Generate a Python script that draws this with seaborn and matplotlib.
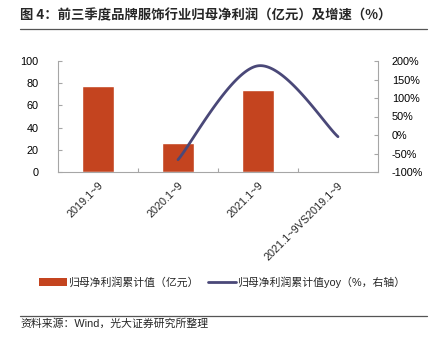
import numpy as np
import pandas as pd
import matplotlib
matplotlib.use("Agg")
import matplotlib.pyplot as plt
import seaborn as sns
from matplotlib.lines import Line2D
from matplotlib.patches import Patch

categories = ["2019.1~9", "2020.1~9", "2021.1~9", "2021.1~9VS2019.1~9"]
profit = [77.7, 25.8, 74.1, np.nan]          # 亿元
yoy = [np.nan, -66.8, 187.0, -4.6]           # %

title = "图 4：前三季度品牌服饰行业归母净利润（亿元）及增速（%）"
bar_label = "归母净利润累计值（亿元）"
line_label = "归母净利润累计值yoy（%，右轴）"
source = "资料来源：Wind，光大证券研究所整理"

BAR_C = "#C4441F"
LINE_C = "#4A4878"
AX_C = "#A6A6A6"

sns.set_theme(style="white")
plt.rcParams["font.family"] = ["Liberation Sans", "Noto Sans CJK SC", "DejaVu Sans"]

W, H = 430, 341
fig = plt.figure(figsize=(W / 100, H / 100), dpi=100)
ax = fig.add_axes([58 / W, 1 - 172 / H, (378 - 58) / W, (172 - 61) / H])

df = pd.DataFrame({"cat": categories, "profit": profit})
sns.barplot(data=df, x="cat", y="profit", color=BAR_C, width=0.4, ax=ax,
            saturation=1, order=categories)
ax.set_xlim(-0.5, 3.5)
ax.set_ylim(0, 100)
ax.set_yticks([0, 20, 40, 60, 80, 100])
ax.set_xlabel("")
ax.set_ylabel("")

ax2 = ax.twinx()
# smooth (Catmull-Rom) rendering of the yoy series
xs = np.array([i for i, v in enumerate(yoy) if not np.isnan(v)], dtype=float)
ys = np.array([v for v in yoy if not np.isnan(v)], dtype=float)
px = np.concatenate([[xs[0]], xs, [xs[-1]]])
py = np.concatenate([[ys[0]], ys, [ys[-1]]])
cx, cy = [], []
for i in range(1, len(px) - 2):
    p0, p1, p2, p3 = (np.array([px[j], py[j]]) for j in (i - 1, i, i + 1, i + 2))
    c1 = p1 + (p2 - p0) / 6
    c2 = p2 - (p3 - p1) / 6
    t = np.linspace(0, 1, 60)[:, None]
    pts = (1 - t) ** 3 * p1 + 3 * (1 - t) ** 2 * t * c1 + 3 * (1 - t) * t ** 2 * c2 + t ** 3 * p2
    cx.extend(pts[:, 0]); cy.extend(pts[:, 1])
sns.lineplot(x=cx, y=cy, ax=ax2, color=LINE_C, linewidth=2, sort=False)
ax2.set_ylim(-100, 200)
ax2.set_yticks(np.arange(-100, 201, 50))
ax2.set_yticklabels([f"{v}%" for v in range(-100, 201, 50)])
ax.set_xlim(-0.5, 3.5)

for a in (ax, ax2):
    for s in a.spines.values():
        s.set_visible(False)
ax.spines["left"].set_visible(True)
ax.spines["bottom"].set_visible(True)
ax2.spines["right"].set_visible(True)
for s in (ax.spines["left"], ax.spines["bottom"], ax2.spines["right"]):
    s.set_color(AX_C)
    s.set_linewidth(0.8)

ax.tick_params(axis="y", direction="in", length=3, color=AX_C, width=0.8,
               labelsize=7.8, pad=14, labelcolor="black", left=True)
ax2.tick_params(axis="y", direction="in", length=3, color=AX_C, width=0.8,
                labelsize=7.8, pad=10, labelcolor="black", right=True)
ax.set_xticks(range(len(categories)))
ax.set_xticklabels(categories, rotation=45, ha="right", rotation_mode="anchor",
                   fontsize=7.8)
ax.tick_params(axis="x", length=0, pad=6)
ax.set_xticks([0.5, 1.5, 2.5], minor=True)
ax.tick_params(axis="x", which="minor", direction="in", length=3, color=AX_C,
               width=0.8, bottom=True)
ax.grid(False); ax2.grid(False)

handles = [Patch(facecolor=BAR_C, edgecolor="none"),
           Line2D([0], [0], color=LINE_C, lw=2)]
fig.legend(handles, [bar_label, line_label], loc="center",
           bbox_to_anchor=(222 / W, 1 - 282 / H), ncol=2, frameon=False,
           fontsize=7.8, handlelength=2.6, handleheight=0.7,
           columnspacing=0.8, handletextpad=0.15)

fig.text(20 / W, 1 - 15 / H, title, fontsize=9.6, fontweight="bold",
         va="center", ha="left", family=["Noto Sans CJK SC", "DejaVu Sans"])
fig.add_artist(Line2D([20 / W, 427 / W], [1 - 29 / H, 1 - 29 / H],
                      color="#555555", lw=0.9))
fig.add_artist(Line2D([20 / W, 427 / W], [1 - 315.5 / H, 1 - 315.5 / H],
                      color="#555555", lw=0.9))
fig.text(20 / W, 1 - 324 / H, source, fontsize=7.8, va="center", ha="left",
         family=["Liberation Sans", "Noto Sans CJK SC"])

fig.savefig("out.png", dpi=100)
